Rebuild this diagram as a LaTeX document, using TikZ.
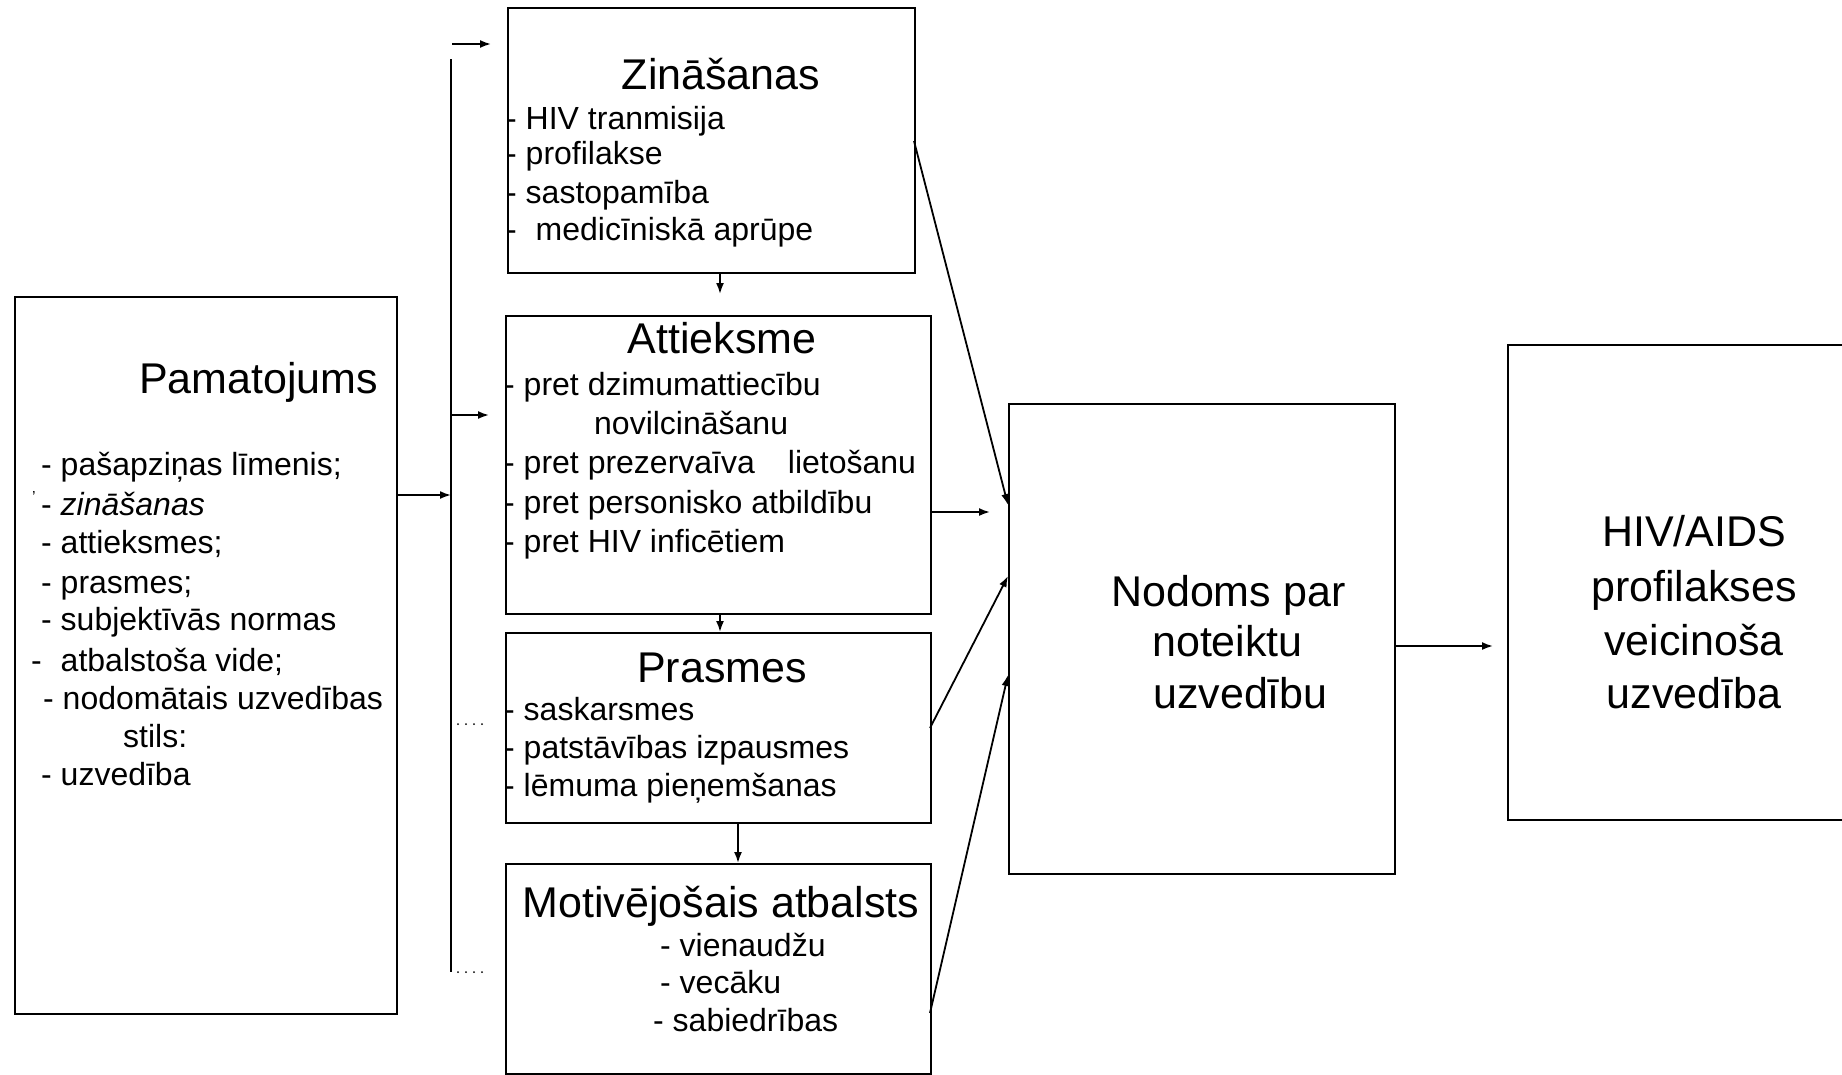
\documentclass[tikz,border=0pt]{standalone}
\usepackage{fontspec}
\setmainfont{Liberation Sans}
\usetikzlibrary{arrows.meta}
\begin{document}
\begin{tikzpicture}[x=1pt,y=-1pt,
  box/.style={draw, line width=2pt, inner sep=0pt, anchor=north west},
  conn/.style={line width=1.8pt, -{Latex[length=11pt,width=8pt]}},
  plain/.style={line width=2pt},
  dots/.style={line width=2pt, line cap=round, dash pattern=on 0pt off 8pt},
  item/.style={anchor=base west, inner sep=0pt, font=\fontsize{32}{38}\selectfont},
  ttl/.style={anchor=base, inner sep=0pt, font=\fontsize{43}{50}\selectfont},
  big/.style={anchor=base west, inner sep=0pt, font=\fontsize{43}{50}\selectfont},
  bigc/.style={anchor=base, inner sep=0pt, font=\fontsize{43}{50}\selectfont},
]
\clip (0,0) rectangle (1842,1074);
\fill[white] (0,0) rectangle (1842,1074);

% boxes
\node[box, minimum width=382pt, minimum height=717pt] (pam) at (14,296) {};
\node[box, minimum width=407pt, minimum height=265pt] (zin) at (507,7) {};
\node[box, minimum width=425pt, minimum height=298pt] (att) at (505,315) {};
\node[box, minimum width=425pt, minimum height=190pt] (pra) at (505,632) {};
\node[box, minimum width=425pt, minimum height=210pt] (mot) at (505,863) {};
\node[box, minimum width=386pt, minimum height=470pt] (nod) at (1008,403) {};
\node[box, minimum width=380pt, minimum height=475pt] (hiv) at (1507,344) {};

% Pamatojums text
\node[ttl, anchor=base west] (pamt) at (139,393) {Pamatojums};
\node[item] (p1) at (41,475) {- pašapziņas līmenis;};
\node[inner sep=0pt, font=\fontsize{16}{16}\selectfont] (p2s) at (34,497) {'};
\node[item] (p2) at (41,515) {- \itshape zināšanas};
\node[item] (p3) at (41,553) {- attieksmes;};
\node[item] (p4) at (41,593) {- prasmes;};
\node[item] (p5) at (41,630) {- subjektīvās normas};
\node[item] (p6) at (31,671) {- \hspace{10pt}atbalstoša vide;};
\node[item] (p7) at (43,709) {- nodomātais uzvedības};
\node[item] (p8) at (123,747) {stils:};
\node[item] (p9) at (41,785) {- uzvedība};

% Zinasanas
\node[ttl] (zint) at (721,89) {Zināšanas};
\node[item] (z1) at (506,129) {- HIV tranmisija};
\node[item] (z2) at (506,164) {- profilakse};
\node[item] (z3) at (506,203) {- sastopamība};
\node[item] (z4) at (506,240) {- \hspace{10pt}medicīniskā aprūpe};

% Attieksme
\node[ttl] (attt) at (722,353) {Attieksme};
\node[item] (a1) at (504,395) {- pret dzimumattiecību};
\node[item] (a2) at (594,434) {novilcināšanu};
\node[item] (a3) at (504,473) {- pret prezervaīva\hspace{33pt}lietošanu};
\node[item] (a4) at (504,513) {- pret personisko atbildību};
\node[item] (a5) at (504,552) {- pret HIV inficētiem};

% Prasmes
\node[ttl] (prat) at (722,682) {Prasmes};
\node[item] (r1) at (504,720) {- saskarsmes};
\node[item] (r2) at (504,758) {- patstāvības izpausmes};
\node[item] (r3) at (504,796) {- lēmuma pieņemšanas};

% Motivejosais
\node[ttl] (mott) at (721,917) {Motivējošais atbalsts};
\node[item] (m1) at (660,956) {- vienaudžu};
\node[item] (m2) at (660,993) {- vecāku};
\node[item] (m3) at (653,1031) {- sabiedrības};

% Nodoms
\node[big] (n1) at (1111,606) {Nodoms par};
\node[big] (n2) at (1152,656) {noteiktu};
\node[big] (n3) at (1153,708) {uzvedību};

% HIV/AIDS
\node[bigc] (h1) at (1694,546) {HIV/AIDS};
\node[bigc] (h2) at (1694,601) {profilakses};
\node[bigc] (h3) at (1694,655) {veicinoša};
\node[bigc] (h4) at (1694,708) {uzvedība};

% connector coordinates
\coordinate (vtop) at (451,59);
\coordinate (vbot) at (451,972);
\coordinate (vp) at (451,495);
\coordinate (a1s) at (452,44);
\coordinate (a1e) at (491,44);
\coordinate (a2s) at (452,415);
\coordinate (a2e) at (489,415);
\coordinate (d1s) at (458,724);
\coordinate (d1e) at (484,724);
\coordinate (d2s) at (458,972);
\coordinate (d2e) at (484,972);
\coordinate (xa) at (720,0);
\coordinate (xp) at (738,0);
\coordinate (zs) at (720,294);
\coordinate (attr) at (930,512);
\coordinate (attn) at (990,512);
\coordinate (zinr) at (914,141);
\coordinate (nin1) at (1008,505);
\coordinate (prar) at (930,728);
\coordinate (nin2) at (1008,576);
\coordinate (motr) at (930,1013);
\coordinate (nin3) at (1008,675);
\coordinate (nodr) at (1394,646);
\coordinate (hivl) at (1493,646);

% connectors
\draw[plain] (vtop) -- (vbot);
\draw[conn] (vp -| pam.east) -- (vp);
\draw[conn] (a1s) -- (a1e);
\draw[conn] (a2s) -- (a2e);
\draw[dots] (d1s) -- (d1e);
\draw[dots] (d2s) -- (d2e);
\draw[conn] (zs |- zin.south) -- (zs);
\draw[conn] (xa |- att.south) -- (xa |- pra.north);
\draw[conn] (xp |- pra.south) -- (xp |- mot.north);
\draw[conn] (attr) -- (attn);
\draw[conn] (zinr) -- (nin1);
\draw[conn] (prar) -- (nin2);
\draw[conn] (motr) -- (nin3);
\draw[conn] (nodr) -- (hivl);
\end{tikzpicture}
\end{document}
